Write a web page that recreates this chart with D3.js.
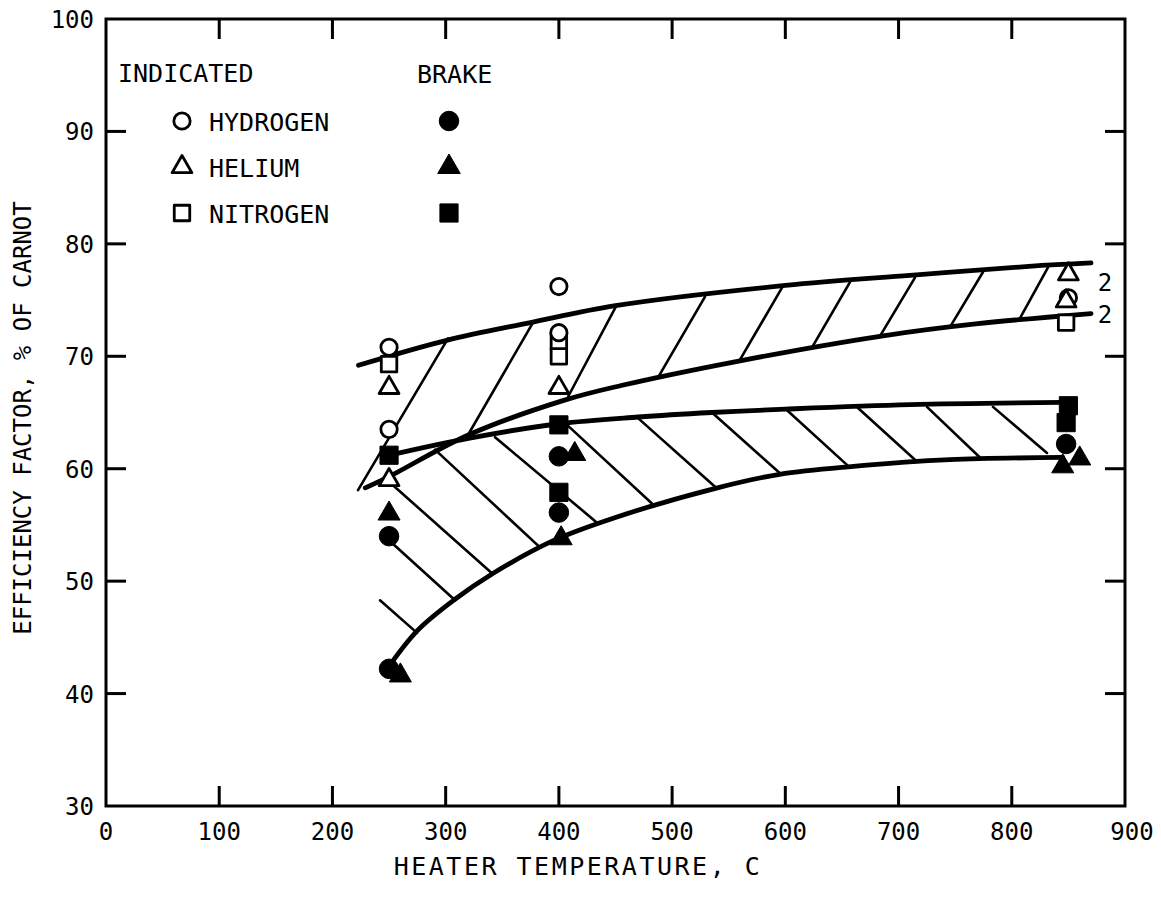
<!DOCTYPE html>
<html><head><meta charset="utf-8">
<script src="https://cdn.jsdelivr.net/npm/d3@7"></script>
<style>
body{margin:0;background:#fff}
svg{display:block}
text{font-family:"DejaVu Sans Mono",monospace;fill:#000}
</style>
</head><body>
<svg id="c" width="1161" height="903"></svg>
<script>
// ---- axes ----
const xTicks = [0,100,200,300,400,500,600,700,800,900];
const yTicks = [30,40,50,60,70,80,90,100];
const xTitle = "HEATER TEMPERATURE, C";
const yTitle = "EFFICIENCY FACTOR, % OF CARNOT";

// ---- band curves [temperature C, efficiency %] ----
const upperIndicated = [[223,69.2],[300,71.4],[375,73.0],[450,74.5],[600,76.3],[710,77.2],[815,78.0],[870,78.3]];
const lowerIndicated = [[229,58.3],[250,59.3],[320,63.0],[405,66.1],[455,67.4],[560,69.6],[685,71.8],[770,72.9],[870,73.8]];
const upperBrake = [[250,61.2],[320,62.7],[400,64.0],[470,64.6],[535,65.0],[600,65.3],[710,65.7],[845,65.9]];
const lowerBrake = [[249,42.3],[275,45.6],[307,48.3],[342,50.7],[395,53.6],[448,55.6],[540,58.3],[595,59.5],[660,60.2],[745,60.8],[845,61.0]];

// ---- hatch strokes [t1,v1,t2,v2] ----
const indicatedHatch = [
  [222.6,58.1,302.1,71.6],[319.7,63.0,377.1,73.0],[408.1,66.4,451.3,74.6],
  [487.5,68.1,529.1,75.3],[560.0,69.7,597.1,76.1],[623.6,70.8,657.1,76.6],
  [683.6,71.8,714.5,77.0],[745.4,72.6,774.6,77.5],[807.3,73.4,832.0,77.9]
];
const brakeHatch = [
  [242.0,48.3,274.7,45.4],[252.6,53.4,308.3,48.3],[248.2,59.0,340.9,50.7],
  [290.6,61.7,383.3,53.0],[343.6,62.8,433.7,55.2],[407.2,63.9,482.2,56.9],
  [469.9,64.5,537.9,58.4],[535.2,65.0,595.3,59.6],[601.5,65.2,657.1,60.1],
  [664.2,65.4,714.5,60.8],[725.1,65.5,771.9,61.0],[783.4,65.5,831.1,61.4]
];

// ---- data points [temperature C, efficiency %] ----
const indHydrogen = [[250,70.8],[250,63.5],[400,76.2],[400,72.1],[850,75.2]];
const indHelium   = [[250,67.2],[250,59.0],[400,67.2],[850,77.3],[848,74.9]];
const indNitrogen = [[250,69.3],[400,71.3],[400,70.0],[848,73.0]];
const brkHydrogen = [[250,54.0],[250,42.2],[400,61.1],[400,56.1],[848,62.2]];
const brkHelium   = [[250,56.0],[260,41.6],[414,61.3],[402,53.8],[860,60.9],[845,60.2]];
const brkNitrogen = [[250,61.2],[400,63.9],[400,57.9],[850,65.6],[848,64.1]];

const curveLabels = [[876,76.6,"2"],[876,73.8,"2"]];
const legendGases = ["HYDROGEN","HELIUM","NITROGEN"];
const legendHeads = ["INDICATED","BRAKE"];

// ---- drawing ----
const svg = d3.select("#c");
const x = d3.scaleLinear().domain([0,900]).range([106,1125]);
const y = d3.scaleLinear().domain([30,100]).range([806,19]);

// frame
svg.append("rect").attr("x",x(0)).attr("y",y(100))
  .attr("width",x(900)-x(0)).attr("height",y(30)-y(100))
  .attr("fill","none").attr("stroke","#000").attr("stroke-width",3);

const inner = xTicks.filter(d=>d>0&&d<900);
const innerY = yTicks.filter(d=>d>30&&d<100);
const T = 20;
const tk = svg.append("g").attr("stroke","#000").attr("stroke-width",3);
inner.forEach(d=>{
  tk.append("line").attr("x1",x(d)).attr("x2",x(d)).attr("y1",y(30)).attr("y2",y(30)-T);
  tk.append("line").attr("x1",x(d)).attr("x2",x(d)).attr("y1",y(100)).attr("y2",y(100)+T);
});
innerY.forEach(d=>{
  tk.append("line").attr("y1",y(d)).attr("y2",y(d)).attr("x1",x(0)).attr("x2",x(0)+T);
  tk.append("line").attr("y1",y(d)).attr("y2",y(d)).attr("x1",x(900)).attr("x2",x(900)-T);
});

svg.append("g").selectAll("text").data(xTicks).join("text")
  .attr("x",d=>x(d)+(d===900?7:0)).attr("y",y(30)+34)
  .attr("text-anchor","middle").attr("font-size",24).text(d=>d);
svg.append("g").selectAll("text").data(yTicks).join("text")
  .attr("x",x(0)-12).attr("y",d=>y(d)+9)
  .attr("text-anchor","end").attr("font-size",24).text(d=>d);

svg.append("text").attr("x",578).attr("y",875).attr("text-anchor","middle")
  .attr("font-size",25).attr("letter-spacing",2.5).text(xTitle);
svg.append("text").attr("transform","translate(31,418) rotate(-90)")
  .attr("text-anchor","middle").attr("font-size",24).text(yTitle);

// curves
const line = d3.line().x(d=>x(d[0])).y(d=>y(d[1])).curve(d3.curveCatmullRom.alpha(0.5));
[upperIndicated,lowerIndicated,upperBrake,lowerBrake].forEach(c=>{
  svg.append("path").attr("d",line(c)).attr("fill","none")
    .attr("stroke","#000").attr("stroke-width",4.8).attr("stroke-linecap","round");
});
// hatches
svg.append("g").selectAll("line").data(indicatedHatch.concat(brakeHatch)).join("line")
  .attr("x1",d=>x(d[0])).attr("y1",d=>y(d[1])).attr("x2",d=>x(d[2])).attr("y2",d=>y(d[3]))
  .attr("stroke","#000").attr("stroke-width",2.6).attr("stroke-linecap","round");

// markers
const sym = {circle:d3.symbolCircle, triangle:d3.symbolTriangle, square:d3.symbolSquare};
function markers(data, shape, filled, size){
  svg.append("g").selectAll("path").data(data).join("path")
    .attr("transform",d=>`translate(${x(d[0])},${y(d[1])})`)
    .attr("d",d3.symbol().type(sym[shape]).size(size))
    .attr("fill",filled?"#000":"#fff").attr("stroke","#000")
    .attr("stroke-width",filled?1:2.8).attr("stroke-linejoin","round");
}
markers(indNitrogen,"square",false,240);
markers(indHydrogen,"circle",false,210);
markers(indHelium,"triangle",false,170);
markers(brkNitrogen,"square",true,330);
markers(brkHydrogen,"circle",true,300);
markers(brkHelium,"triangle",true,210);

svg.append("g").selectAll("text").data(curveLabels).join("text")
  .attr("x",d=>x(d[0])).attr("y",d=>y(d[1])+9).attr("font-size",24).text(d=>d[2]);

// legend
const lg = svg.append("g");
lg.append("text").attr("x",118).attr("y",82).attr("font-size",25).text(legendHeads[0]);
lg.append("text").attr("x",417).attr("y",83).attr("font-size",25).text(legendHeads[1]);
const rowsY = [121,167,213];
const shapes = ["circle","triangle","square"];
const openSize = [210,170,240], fillSize = [300,220,330];
legendGases.forEach((g,i)=>{
  lg.append("path").attr("transform",`translate(182,${rowsY[i]})`)
    .attr("d",d3.symbol().type(sym[shapes[i]]).size(openSize[i]))
    .attr("fill","#fff").attr("stroke","#000").attr("stroke-width",2.8).attr("stroke-linejoin","round");
  lg.append("text").attr("x",209).attr("y",rowsY[i]+10).attr("font-size",25).text(g);
  lg.append("path").attr("transform",`translate(449,${rowsY[i]})`)
    .attr("d",d3.symbol().type(sym[shapes[i]]).size(fillSize[i]))
    .attr("fill","#000").attr("stroke","#000").attr("stroke-width",1);
});
</script>
</body></html>
